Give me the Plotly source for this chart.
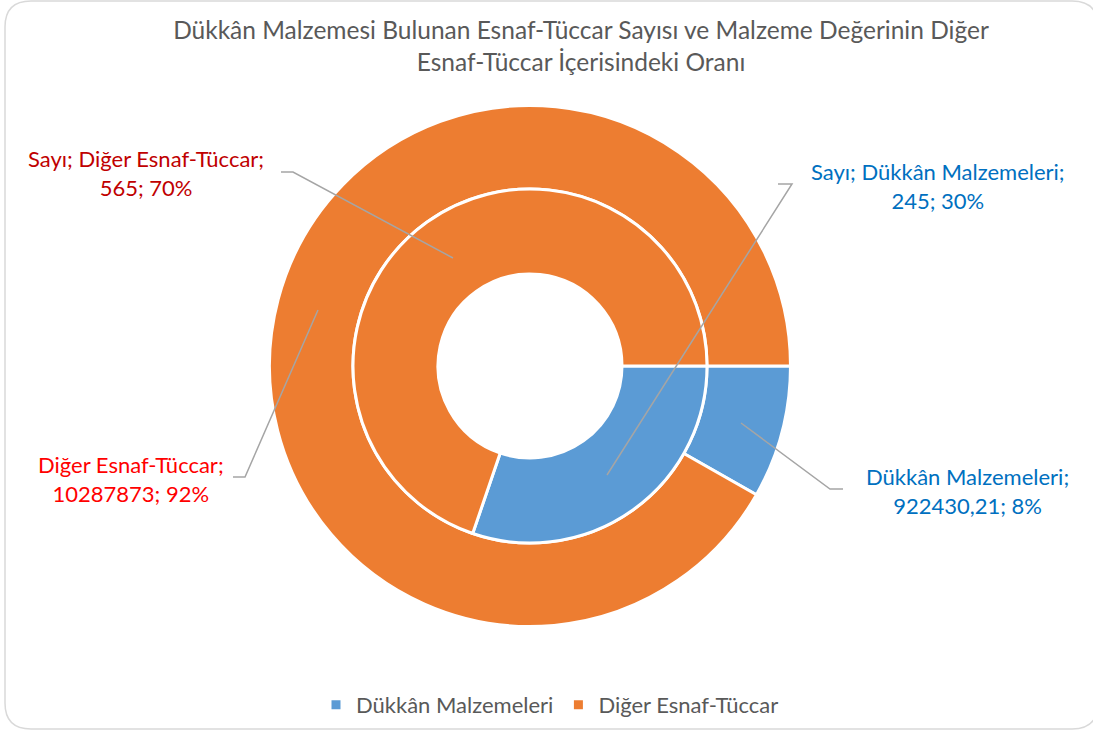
import plotly.graph_objects as go

W, H = 1093, 733

categories = ["Dükkân Malzemeleri", "Diğer Esnaf-Tüccar"]
sayi = [245, 565]
deger = [922430.21, 10287873]
colors = ["#5B9BD5", "#ED7D31"]
title_text = "Dükkân Malzemesi Bulunan Esnaf-Tüccar Sayısı ve Malzeme Değerinin Diğer<br>Esnaf-Tüccar İçerisindeki Oranı"
FONT = "Lato"


def px(x):
    return x / W


def py(y):
    return 1 - y / H


def fmt_tr(v):
    if abs(v - round(v)) < 1e-9:
        return str(int(round(v)))
    return f"{v:.2f}".replace(".", ",")


cx, cy = 530, 366
r_out, r_in, r_hole = 260.5, 177, 92

fig = go.Figure()
fig.add_trace(go.Pie(
    labels=categories, values=deger, sort=False, direction="clockwise", rotation=90,
    hole=r_in / r_out, marker=dict(colors=colors, line=dict(color="white", width=3)),
    textinfo="none", hoverinfo="label+value+percent", showlegend=True,
    domain=dict(x=[px(cx - r_out), px(cx + r_out)], y=[py(cy + r_out), py(cy - r_out)]),
))
fig.add_trace(go.Pie(
    labels=categories, values=sayi, sort=False, direction="clockwise", rotation=90,
    hole=r_hole / r_in, marker=dict(colors=colors, line=dict(color="white", width=3)),
    textinfo="none", hoverinfo="label+value+percent", showlegend=False,
    domain=dict(x=[px(cx - r_in), px(cx + r_in)], y=[py(cy + r_in), py(cy - r_in)]),
))

tot_s = sum(sayi)
tot_d = sum(deger)
lab_inner = [f"Sayı; {c};<br>{fmt_tr(v)}; {round(100 * v / tot_s)}%" for c, v in zip(categories, sayi)]
lab_outer = [f"{c};<br>{fmt_tr(v)}; {round(100 * v / tot_d)}%" for c, v in zip(categories, deger)]

annots = [
    (lab_inner[0], 938, 186, "#0070C0"),
    (lab_inner[1], 146, 173, "#C00000"),
    (lab_outer[0], 967, 491, "#0070C0"),
    (lab_outer[1], 131, 479, "#FF0000"),
]
for t, x, y, c in annots:
    fig.add_annotation(text=t, x=px(x), y=py(y), xref="paper", yref="paper", showarrow=False,
                       font=dict(family=FONT, size=22, color=c), align="center",
                       xanchor="center", yanchor="middle")

leaders = [
    [(778, 184), (792, 184), (607, 475)],
    [(281, 172), (293, 172), (453, 258)],
    [(843, 489), (830, 489), (741, 423)],
    [(233, 477), (245, 477), (318, 310)],
]
shapes = []
for pts in leaders:
    d = "M " + " L ".join(f"{px(x)},{py(y)}" for x, y in pts)
    shapes.append(dict(type="path", path=d, xref="paper", yref="paper",
                       line=dict(color="#A5A5A5", width=1.5)))

# rounded border
x0, x1, y0, y1, rr = 5, 1098, 1, 729, 26
bd = (f"M {px(x0 + rr)},{py(y0)} L {px(x1 - rr)},{py(y0)} "
      f"Q {px(x1)},{py(y0)} {px(x1)},{py(y0 + rr)} L {px(x1)},{py(y1 - rr)} "
      f"Q {px(x1)},{py(y1)} {px(x1 - rr)},{py(y1)} L {px(x0 + rr)},{py(y1)} "
      f"Q {px(x0)},{py(y1)} {px(x0)},{py(y1 - rr)} L {px(x0)},{py(y0 + rr)} "
      f"Q {px(x0)},{py(y0)} {px(x0 + rr)},{py(y0)} Z")
shapes.append(dict(type="path", path=bd, xref="paper", yref="paper",
                   line=dict(color="#D9D9D9", width=1.5), layer="below"))

fig.update_layout(
    width=W, height=H, margin=dict(l=0, r=0, t=0, b=0),
    paper_bgcolor="white", plot_bgcolor="white",
    title=dict(text=title_text, x=px(581), xanchor="center", y=py(39), yanchor="middle",
               font=dict(family=FONT, size=24.5, color="#595959")),
    legend=dict(orientation="h", x=px(550), xanchor="center", y=py(705), yanchor="middle",
                font=dict(family=FONT, size=22, color="#595959"), itemwidth=30),
    shapes=shapes,
    font=dict(family=FONT),
)

fig.write_html("out.html", config={"displayModeBar": False},
               post_script="document.body.style.margin='0';document.body.style.overflow='hidden';")
